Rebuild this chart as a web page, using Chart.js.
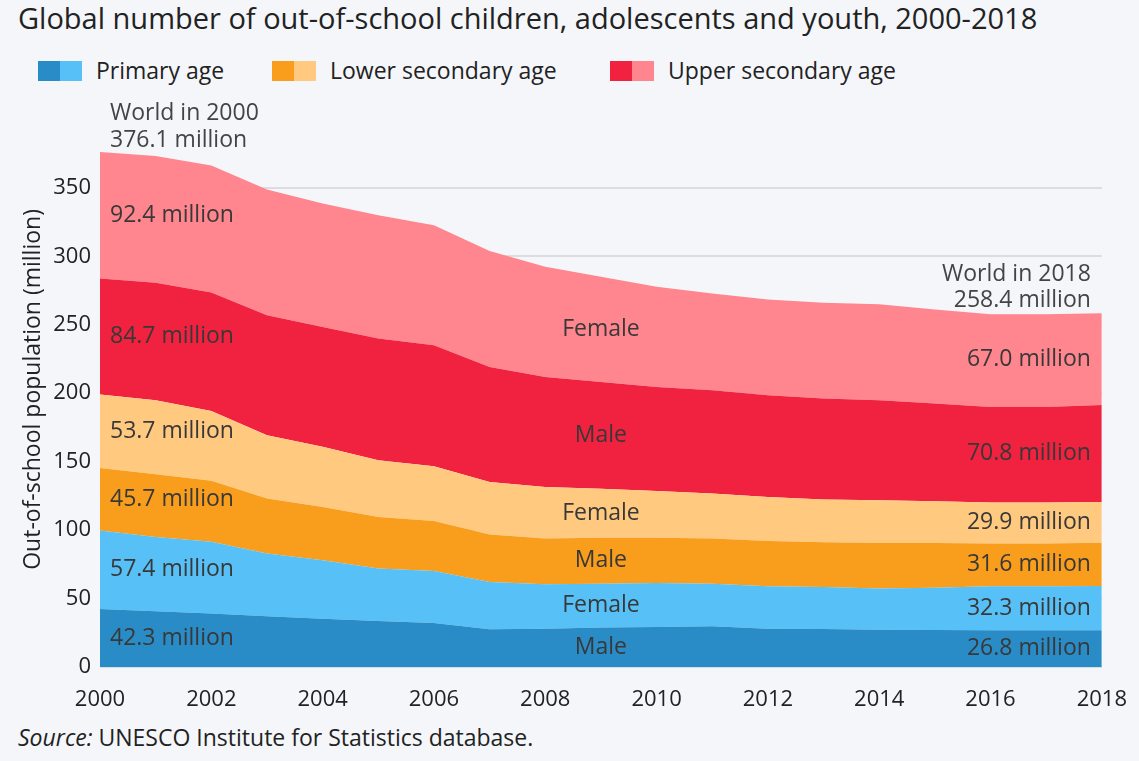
<!DOCTYPE html>
<html>
<head>
<meta charset="utf-8">
<script src="https://cdn.jsdelivr.net/npm/chart.js@4/dist/chart.umd.min.js"></script>
<style>
  html,body{margin:0;padding:0;background:#F4F6FA;width:1139px;height:761px;overflow:hidden;font-family:"Open Sans",sans-serif;color:#222;}
  #title{position:absolute;left:18px;top:-2px;font-size:29px;white-space:nowrap;}
  .sw{position:absolute;top:61px;width:22px;height:20px;}
  .txt{position:absolute;top:54px;font-size:23px;white-space:nowrap;}
  #source{position:absolute;left:18px;top:721px;font-size:23px;white-space:nowrap;}
  #wrap{position:absolute;left:0;top:0;width:1139px;height:720px;}
</style>
</head>
<body>
<div id="title">Global number of out-of-school children, adolescents and youth, 2000-2018</div>
<span class="sw" style="left:38px;background:#2A8CC7"></span><span class="sw" style="left:60px;background:#56C0F7"></span><span class="txt" style="left:96px">Primary age</span>
<span class="sw" style="left:272px;background:#F99D1C"></span><span class="sw" style="left:294px;background:#FFCA80"></span><span class="txt" style="left:330px">Lower secondary age</span>
<span class="sw" style="left:610px;background:#F0223F"></span><span class="sw" style="left:632px;background:#FF858E"></span><span class="txt" style="left:668px">Upper secondary age</span>
<div id="wrap"><canvas id="c" width="1139" height="720"></canvas></div>
<div id="source"><i>Source:</i> UNESCO Institute for Statistics database.</div>
<script>
const years = ["2000","2001","2002","2003","2004","2005","2006","2007","2008","2009","2010","2011","2012","2013","2014","2015","2016","2017","2018"];
const primaryMale      = [42.3,40.7,39.0,37.0,35.3,33.6,32.2,27.5,28.0,28.8,29.2,29.7,28.0,27.8,27.3,27.1,26.8,26.8,26.8];
const primaryFemale    = [57.4,54.3,52.5,45.9,42.7,38.3,37.9,34.6,32.4,32.1,32.2,31.2,31.0,30.7,30.0,30.8,32.2,32.2,32.3];
const lowerSecMale     = [45.7,45.8,44.5,40.1,38.9,37.7,36.6,34.7,33.4,33.6,33.1,32.9,33.1,32.6,33.3,32.7,31.2,31.2,31.6];
const lowerSecFemale   = [53.7,54.1,51.0,46.3,43.9,41.4,39.9,38.4,37.7,35.8,34.1,32.9,32.1,31.2,31.2,30.5,29.9,29.9,29.9];
const upperSecMale     = [84.7,85.7,86.5,87.7,87.6,89.0,88.5,84.0,80.4,77.9,76.0,75.5,74.3,73.8,73.1,71.4,69.9,69.9,70.8];
const upperSecFemale   = [92.4,92.6,92.8,91.8,90.2,90.0,87.6,84.6,80.4,76.8,73.1,70.6,69.9,69.9,70.1,68.6,67.7,67.7,67.0];
const seriesNames = ["Male","Female","Male","Female","Male","Female"];
const yTicks = [0,50,100,150,200,250,300,350];
const yAxisTitle = "Out-of-school population (million)";
const worldTotals = {start:"376.1", end:"258.4"};
const leftLabels = ["42.3 million","57.4 million","45.7 million","53.7 million","84.7 million","92.4 million"];
const rightLabels = ["26.8 million","32.3 million","31.6 million","29.9 million","70.8 million","67.0 million"];
const midIndex = 9;

const series = [primaryMale,primaryFemale,lowerSecMale,lowerSecFemale,upperSecMale,upperSecFemale];
const colors = ["#2A8CC7","#56C0F7","#F99D1C","#FFCA80","#F0223F","#FF858E"];
const totals = years.map((_,i)=>series.reduce((s,a)=>s+a[i],0));
const yMax = Math.max(...totals);

const datasets = series.map((d,k)=>({
  label: seriesNames[k],
  data: d,
  backgroundColor: colors[k],
  borderWidth: 0,
  borderColor: colors[k],
  pointRadius: 0,
  tension: 0,
  fill: k===0 ? 'origin' : '-1'
}));

const labelPlugin = {
  id:'labels',
  afterDatasetsDraw(chart){
    const {ctx, scales:{x,y}} = chart;
    ctx.save();
    ctx.font = '23px "Open Sans"';
    ctx.textBaseline = 'middle';
    ctx.fillStyle = '#383838';
    const n = years.length-1;
    const cum = (k,i)=>{let s=0;for(let j=0;j<=k;j++) s+=series[j][i];return s;};
    for(let k=0;k<series.length;k++){
      const midL = cum(k,0)-series[k][0]/2;
      const midR = cum(k,n)-series[k][n]/2;
      const midM = cum(k,midIndex)-series[k][midIndex]/2;
      ctx.textAlign='left';
      ctx.fillText(leftLabels[k], x.getPixelForValue(0)+10, y.getPixelForValue(midL));
      ctx.textAlign='right';
      ctx.fillText(rightLabels[k], x.getPixelForValue(n)-11, y.getPixelForValue(midR));
      ctx.textAlign='center';
      ctx.fillText(seriesNames[k], x.getPixelForValue(midIndex), y.getPixelForValue(midM));
    }
    ctx.fillStyle = '#444';
    const y0 = y.getPixelForValue(totals[0]);
    ctx.textAlign='left';
    ctx.fillText('World in 2000', x.getPixelForValue(0)+10, y0-39);
    ctx.fillText(worldTotals.start+' million', x.getPixelForValue(0)+10, y0-12);
    const y1 = y.getPixelForValue(totals[n]);
    ctx.textAlign='right';
    ctx.fillText('World in 2018', x.getPixelForValue(n)-11, y1-39);
    ctx.fillText(worldTotals.end+' million', x.getPixelForValue(n)-11, y1-13);
    // y axis title, centred on the tick range
    ctx.fillStyle = '#222';
    ctx.textAlign = 'center';
    const yc = (y.getPixelForValue(yTicks[0]) + y.getPixelForValue(yTicks[yTicks.length-1]))/2 - 38;
    ctx.translate(33, yc);
    ctx.rotate(-Math.PI/2);
    ctx.fillText(yAxisTitle, 0, 0);
    ctx.restore();
  }
};

new Chart(document.getElementById('c'), {
  type:'line',
  data:{labels:years, datasets},
  plugins:[labelPlugin],
  options:{
    responsive:false,
    animation:false,
    devicePixelRatio:1,
    layout:{padding:{top:152,right:36,left:0,bottom:0}},
    plugins:{legend:{display:false},tooltip:{enabled:false}},
    elements:{line:{borderWidth:0}},
    scales:{
      x:{
        grid:{display:false},
        border:{display:false},
        ticks:{autoSkip:false,maxRotation:0,padding:12,color:'#222',font:{family:'"Open Sans"',size:22},
          callback:(v,i)=> (parseInt(years[i])%2===0 ? years[i] : '')},
        afterFit:(s)=>{s.height=53;}
      },
      y:{
        stacked:true,
        min:0,
        max:yMax,
        afterBuildTicks:(s)=>{s.ticks = yTicks.map(v=>({value:v}));},
        grid:{color:'#DCDDE0',lineWidth:2,drawTicks:false},
        border:{display:false},
        ticks:{padding:9,color:'#222',font:{family:'"Open Sans"',size:22}},
        title:{display:false},
        afterFit:(s)=>{s.width=100;}
      }
    }
  }
});
</script>
</body>
</html>
